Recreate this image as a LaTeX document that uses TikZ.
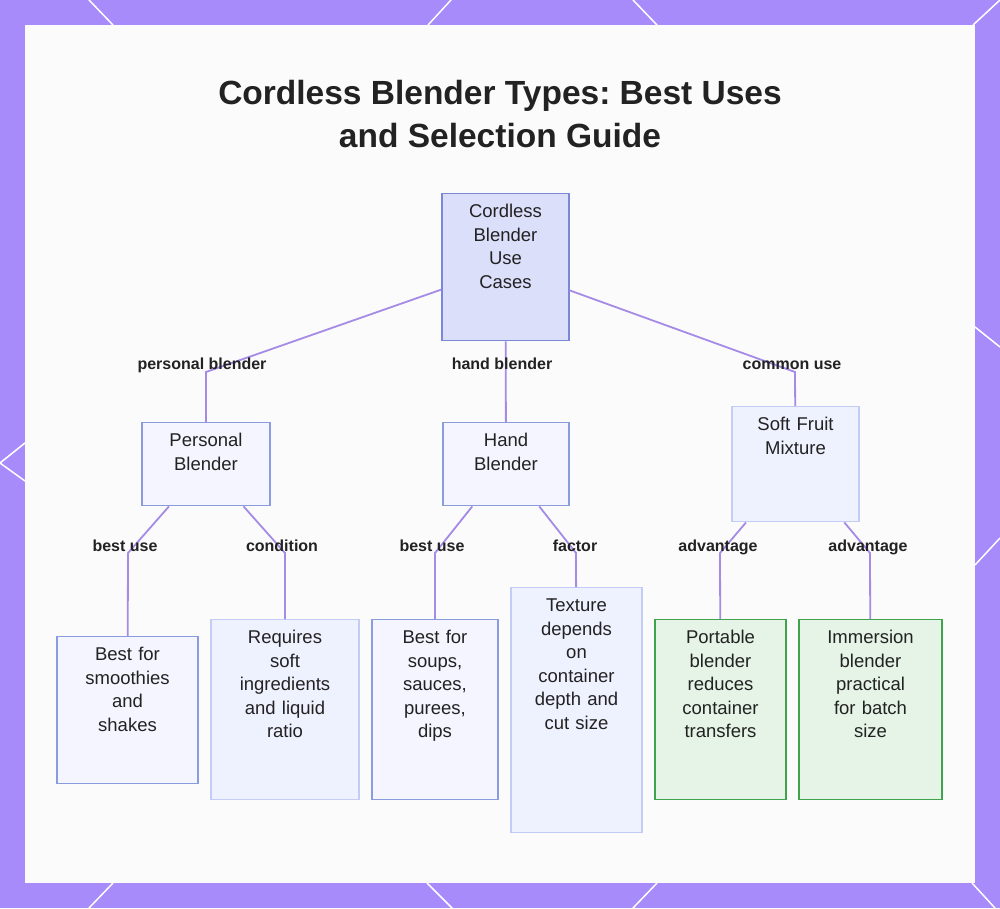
\documentclass[tikz,border=0pt]{standalone}
\usepackage{fontspec}
\setmainfont{Liberation Sans}
\usepackage{xcolor}
\usepackage{tikz}
\usetikzlibrary{positioning,calc}
\frenchspacing

\definecolor{frame}{HTML}{A78BFA}
\definecolor{panel}{HTML}{FBFBFB}
\definecolor{linkcol}{HTML}{A58BE6}
\definecolor{rootfill}{HTML}{DCDFFA}
\definecolor{rootline}{HTML}{7B88D8}
\definecolor{boxfill}{HTML}{F4F5FE}
\definecolor{boxline}{HTML}{8A9BE0}
\definecolor{palefill}{HTML}{EEF1FE}
\definecolor{paleline}{HTML}{C3CCF5}
\definecolor{greenfill}{HTML}{E5F4E6}
\definecolor{greenline}{HTML}{3FA34D}
\definecolor{ink}{HTML}{222222}

\begin{document}
\begin{tikzpicture}[x=1pt, y=-1pt,
  blendbox/.style={draw=boxline, fill=boxfill, line width=1.4pt, anchor=north, align=center,
    inner sep=0pt, text height=24pt, text=ink, font=\fontsize{18.5}{23.5}\selectfont},
  dims/.style 2 args={text width=#1pt, text depth=#2pt},
  pale/.style={draw=paleline, fill=palefill},
  green/.style={draw=greenline, fill=greenfill},
  link/.style={draw=linkcol, line width=1.8pt},
  elabel/.style={anchor=base, inner sep=0pt, text=ink, font=\bfseries\fontsize{16}{19}\selectfont}]
  \useasboundingbox (0,0) rectangle (1000,908);

  % Frame and panel
  \fill[frame] (0,0) rectangle (1000,908);
  \draw[white, line width=1.5pt] (89,0) -- (113,25) (451,0) -- (428,25) (633,0) -- (657,25) (1000,0) -- (973,25);
  \draw[white, line width=1.5pt] (113,883) -- (89,908) (427,883) -- (452,908) (657,883) -- (633,908) (972,883) -- (995,908);
  \draw[white, line width=1.5pt] (25,443) -- (0,463) -- (25,481);
  \draw[white, line width=1.5pt] (975,327) -- (1000,347) (975,565) -- (1000,538);
  \fill[panel] (25,25) rectangle (975,883);

  % Title (base = last line)
  \node[anchor=base, align=center, text=ink, font=\bfseries\fontsize{33.5}{43}\selectfont] (title) at (500,147)
    {Cordless Blender Types: Best Uses\\and Selection Guide};

  % Top level
  \node[blendbox, dims={127}{123}, draw=rootline, fill=rootfill] (root) at (505.5,193) {Cordless\\Blender\\Use\\Cases};
  \node[blendbox, dims={128}{59}] (pers) at (206,422) {Personal\\Blender};
  \node[blendbox, dims={126}{59}] (hand) at (506,422) {Hand\\Blender};
  \node[blendbox, pale, dims={127}{91}] (soft) at (795.5,406) {Soft Fruit\\Mixture};

  % Leaves
  \node[blendbox, dims={141}{123}] (smoo) at (127.5,636) {Best for\\smoothies\\and\\shakes};
  \node[blendbox, pale, dims={148}{156}] (reqs) at (285,619) {Requires\\soft\\ingredients\\and liquid\\ratio};
  \node[blendbox, dims={126}{156}] (soups) at (435,619) {Best for\\soups,\\sauces,\\purees,\\dips};
  \node[blendbox, pale, dims={131}{221}] (tex) at (576.5,587) {Texture\\depends\\on\\container\\depth and\\cut size};
  \node[blendbox, green, dims={131}{156}] (port) at (720.5,619) {Portable\\blender\\reduces\\container\\transfers};
  \node[blendbox, green, dims={143}{156}] (imm) at (870.5,619) {Immersion\\blender\\practical\\for batch\\size};

  % Bends
  \coordinate (kpers) at (206,372);
  \coordinate (ksoft) at (795,372);
  \coordinate (ksmoo) at (128,553);
  \coordinate (kreqs) at (285,553);
  \coordinate (ksoups) at (435,553);
  \coordinate (ktex) at (576,553);
  \coordinate (kport) at (720,553);
  \coordinate (kimm) at (870,553);

  % Links
  \draw[link] (root) -- (kpers) -- (pers);
  \draw[link] (root) -- (hand);
  \draw[link] (root) -- (ksoft) -- (soft);
  \draw[link] (pers) -- (ksmoo) -- (smoo);
  \draw[link] (pers) -- (kreqs) -- (reqs);
  \draw[link] (hand) -- (ksoups) -- (soups);
  \draw[link] (hand) -- (ktex) -- (tex);
  \draw[link] (soft) -- (kport) -- (port);
  \draw[link] (soft) -- (kimm) -- (imm);

  % Link labels
  \node[elabel] (lpers) at (202,369) {personal blender};
  \node[elabel] (lhand) at (502,369) {hand blender};
  \node[elabel] (lsoft) at (792,369) {common use};
  \node[elabel] (lsmoo) at (125,551) {best use};
  \node[elabel] (lreqs) at (282,551) {condition};
  \node[elabel] (lsoups) at (432,551) {best use};
  \node[elabel] (ltex) at (575,551) {factor};
  \node[elabel] (lport) at (718,551) {advantage};
  \node[elabel] (limm) at (868,551) {advantage};
\end{tikzpicture}
\end{document}
